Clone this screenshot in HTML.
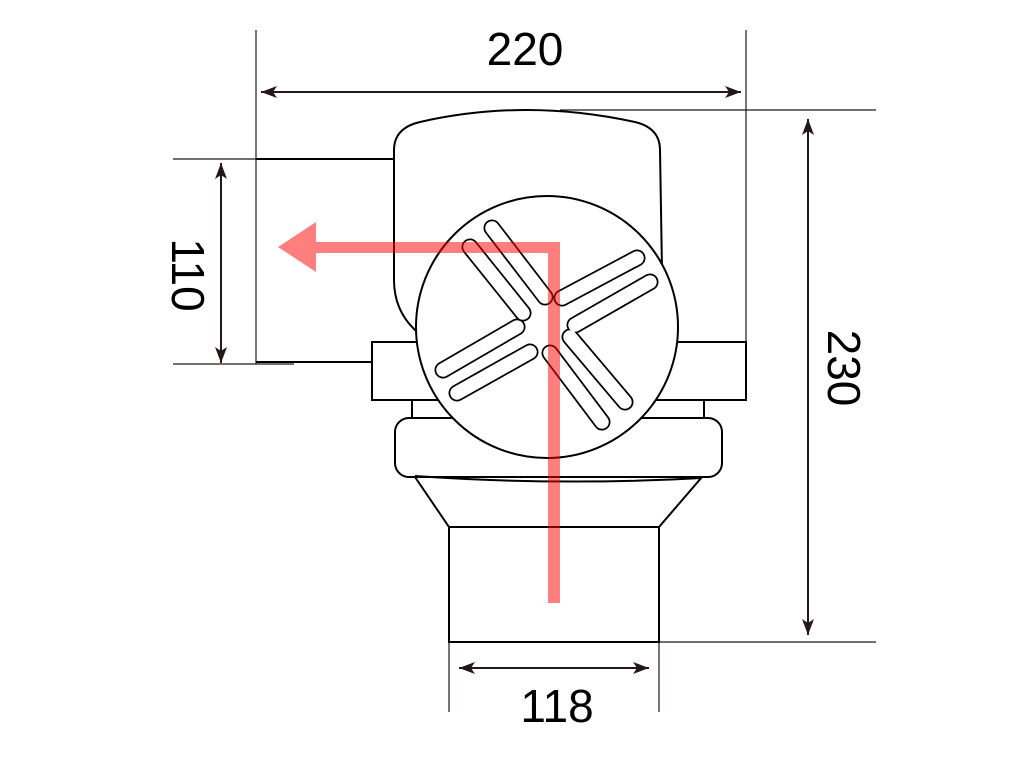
<!DOCTYPE html>
<html><head><style>body{margin:0;background:#fff}svg{display:block}</style></head><body>
<svg width="1024" height="768" viewBox="0 0 1024 768" xmlns="http://www.w3.org/2000/svg">
<defs>
<marker id="a" viewBox="0 0 16 12" refX="16" refY="6" markerWidth="16" markerHeight="12" markerUnits="userSpaceOnUse" orient="auto-start-reverse"><path d="M0,0 L16,6 L0,12 L4,6 Z" fill="#231815"/></marker>
</defs>
<g stroke="#231815" stroke-width="1.2" fill="none">
<line x1="256" y1="30" x2="256" y2="364"/>
<line x1="746" y1="30" x2="746" y2="342"/>
<line x1="560" y1="110" x2="876" y2="110"/>
<line x1="659" y1="642" x2="876" y2="642"/>
<line x1="173" y1="159" x2="294" y2="159"/>
<line x1="173" y1="364" x2="294" y2="364"/>
<line x1="449" y1="642" x2="449" y2="712"/>
<line x1="659" y1="642" x2="659" y2="712"/>
<line x1="261" y1="92" x2="741" y2="92" marker-start="url(#a)" marker-end="url(#a)" stroke-width="2"/>
<line x1="808" y1="119" x2="808" y2="635" marker-start="url(#a)" marker-end="url(#a)" stroke-width="2"/>
<line x1="221" y1="163" x2="221" y2="363" marker-start="url(#a)" marker-end="url(#a)" stroke-width="2"/>
<line x1="459" y1="668" x2="649" y2="668" marker-start="url(#a)" marker-end="url(#a)" stroke-width="2"/>
</g>
<g stroke="#000" stroke-width="2" fill="#fff">
<path d="M256,159 H396 M256,362 H372" fill="none"/>
<path d="M394,150 Q394,128 420,122 Q525,98 635,122 Q660,128 660,150 L662,270 L640,330 L415,330 Q394,310 394,280 Z"/>
<rect x="372" y="342" width="374" height="58"/>
<rect x="412" y="400" width="292" height="18"/>
<path d="M415,477 L449,527 L659,527 L702,477 Z"/>
<rect x="395" y="418" width="327" height="59" rx="14"/>
<path d="M415,476 Q560,486 702,478" fill="none"/>
<rect x="449" y="527" width="210" height="115"/>
<circle cx="547" cy="327" r="131"/>
</g>
<g stroke-linecap="round" fill="none">
<g stroke="#000" stroke-width="17">
<line x1="470" y1="247" x2="523" y2="313"/><line x1="492" y1="228" x2="545" y2="297"/>
<line x1="562" y1="298" x2="637" y2="258"/><line x1="575" y1="325" x2="650" y2="282"/>
<line x1="443" y1="370" x2="517" y2="327"/><line x1="457" y1="393" x2="530" y2="352"/>
<line x1="550" y1="353" x2="602" y2="422"/><line x1="570" y1="337" x2="625" y2="402"/>
</g>
<g stroke="#fff" stroke-width="13.5">
<line x1="470" y1="247" x2="523" y2="313"/><line x1="492" y1="228" x2="545" y2="297"/>
<line x1="562" y1="298" x2="637" y2="258"/><line x1="575" y1="325" x2="650" y2="282"/>
<line x1="443" y1="370" x2="517" y2="327"/><line x1="457" y1="393" x2="530" y2="352"/>
<line x1="550" y1="353" x2="602" y2="422"/><line x1="570" y1="337" x2="625" y2="402"/>
</g>
</g>
<g fill="rgba(255,0,0,0.5)">
<path d="M548,603 V253 H316 V242 H560 V603 Z"/>
<path d="M278,247 L316,222 L316,272 Z"/>
</g>
<g font-family="Liberation Sans, sans-serif" font-size="46" fill="#000" text-anchor="middle">
<text x="525" y="65">220</text>
<text x="557" y="722">118</text>
<text transform="translate(172,275) rotate(90)">110</text>
<text transform="translate(828,368) rotate(90)">230</text>
</g>
</svg>
</body></html>
